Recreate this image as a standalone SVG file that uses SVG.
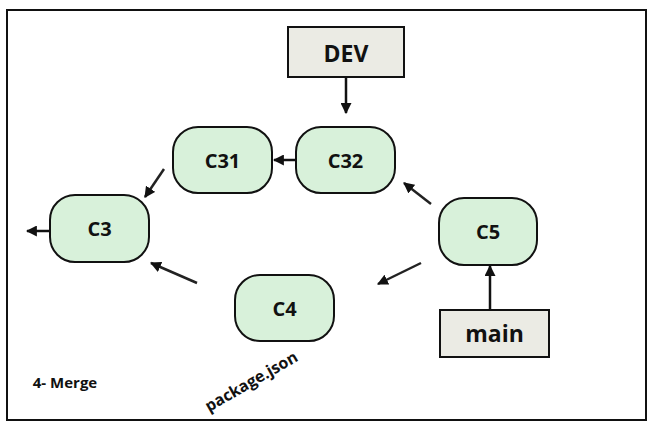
<svg xmlns="http://www.w3.org/2000/svg" width="660" height="432" viewBox="0 0 660 432">
<style>
.commit rect{fill:#d8f1da;stroke:#111;stroke-width:2}
.branch rect{fill:#ebebe4;stroke:#111;stroke-width:2}
text{font-family:"Open Sans","Liberation Sans",sans-serif;font-weight:bold;fill:#111;text-anchor:middle;dominant-baseline:central}
.ctext{font-size:20px}
.btext{font-size:23px}
.conn line{stroke:#111;stroke-width:2.5;marker-end:url(#ah)}
.conn line.d{stroke:#222}
</style>
<defs>
<marker id="ah" viewBox="0 0 10 10" refX="9" refY="5" markerWidth="11" markerHeight="11" markerUnits="userSpaceOnUse" orient="auto">
<path d="M0,0 L10,5 L0,10 z" fill="#111"/>
</marker>
</defs>
<rect x="7" y="10" width="639" height="410" fill="#fff" stroke="#111" stroke-width="2"/>
<g id="DEV" class="branch"><rect x="288" y="27" width="116" height="50"/><text class="btext" x="346" y="53">DEV</text></g>
<g id="main" class="branch"><rect x="440" y="310" width="109" height="47"/><text class="btext" x="494.5" y="333">main</text></g>
<g id="C31" class="commit"><rect x="173" y="127" width="99" height="66" rx="25"/><text class="ctext" x="222.5" y="160">C31</text></g>
<g id="C32" class="commit"><rect x="296" y="127" width="99" height="66" rx="25"/><text class="ctext" x="345.5" y="160">C32</text></g>
<g id="C3" class="commit"><rect x="50" y="195" width="99" height="67" rx="25"/><text class="ctext" x="99.5" y="228.5">C3</text></g>
<g id="C4" class="commit"><rect x="235" y="275" width="99" height="66" rx="25"/><text class="ctext" x="284.5" y="308">C4</text></g>
<g id="C5" class="commit"><rect x="439" y="198" width="98" height="67" rx="25"/><text class="ctext" x="488" y="231.5">C5</text></g>
<g class="conn">
<line x1="346" y1="78" x2="346" y2="113"/>
<line x1="296" y1="160" x2="274" y2="160"/>
<line x1="50" y1="231" x2="27" y2="231"/>
<line x1="490" y1="310" x2="490" y2="266"/>
<line class="d" x1="164" y1="169" x2="145" y2="197"/>
<line class="d" x1="431" y1="204" x2="404" y2="183"/>
<line class="d" x1="421" y1="263" x2="378" y2="284"/>
<line class="d" x1="197" y1="283" x2="151" y2="263"/>
</g>
<text x="65" y="382" style="font-size:15px">4- Merge</text>
<text transform="translate(251,381) rotate(-30)" x="0" y="0" style="font-size:16px">package.json</text>
</svg>
